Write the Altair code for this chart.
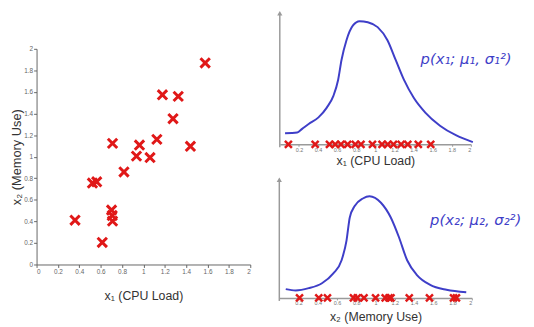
import altair as alt
import pandas as pd

# ---- data ----
cpu_load = [1.578, 1.178, 1.326, 1.277, 1.126, 1.44, 0.711, 0.963, 0.935, 1.062,
            0.818, 0.523, 0.563, 0.702, 0.708, 0.711, 0.36, 0.615]
memory_use = [1.869, 1.574, 1.559, 1.352, 1.160, 1.096, 1.123, 1.108, 1.005, 0.992,
              0.858, 0.755, 0.767, 0.505, 0.454, 0.402, 0.411, 0.204]

# crosses drawn along the x1 and x2 axes of the marginal plots
x1_marks = [0.09, 0.37, 0.52, 0.58, 0.64, 0.71, 0.79, 0.85, 0.97, 1.07, 1.13, 1.19,
            1.27, 1.34, 1.45, 1.58]
x2_marks = [0.21, 0.41, 0.5, 0.77, 0.81, 0.88, 1.0, 1.1, 1.14, 1.16, 1.35, 1.56,
            1.81, 1.84]

# hand-drawn density curves (x, height)
p1_x = [0.055, 0.182, 0.234, 0.302, 0.405, 0.492, 0.56, 0.611, 0.646, 0.698, 0.766,
        0.835, 0.921, 1.024, 1.127, 1.213, 1.299, 1.402, 1.523, 1.677, 1.848, 2.021]
p1_y = [0.094, 0.10, 0.131, 0.172, 0.228, 0.311, 0.408, 0.547, 0.714, 0.881, 1.006,
        1.042, 1.033, 0.992, 0.881, 0.714, 0.547, 0.394, 0.269, 0.158, 0.075, 0.019]
p2_x = [0.067, 0.17, 0.306, 0.443, 0.561, 0.647, 0.698, 0.732, 0.783, 0.868, 0.937,
        1.056, 1.158, 1.243, 1.328, 1.43, 1.567, 1.737, 1.942]
p2_y = [0.075, 0.064, 0.083, 0.125, 0.208, 0.319, 0.486, 0.681, 0.778, 0.842, 0.861,
        0.806, 0.681, 0.514, 0.319, 0.194, 0.111, 0.069, 0.048]

tick_values = [0, 0.2, 0.4, 0.6, 0.8, 1, 1.2, 1.4, 1.6, 1.8, 2]
marg_ticks = [0.2, 0.4, 0.6, 0.8, 1, 1.2, 1.4, 1.6, 1.8, 2]

label1 = "p(x\u2081; \u03bc\u2081, \u03c3\u2081\u00b2)"
label2 = "p(x\u2082; \u03bc\u2082, \u03c3\u2082\u00b2)"

# ---- layout (pixels inside the plot area) ----
W, H = 526, 318
RED = "#e01818"
BLUE = "#3e3ec8"
GRAY = "#9a9a9a"
X_PATH = "M-1,-1L1,1M-1,1L1,-1"

scatter_df = pd.DataFrame({"x1": cpu_load, "x2": memory_use})
m1_df = pd.DataFrame({"x": x1_marks, "y": [0] * len(x1_marks)})
m2_df = pd.DataFrame({"x": x2_marks, "y": [0] * len(x2_marks)})
c1_df = pd.DataFrame({"x": p1_x, "y": p1_y})
c2_df = pd.DataFrame({"x": p2_x, "y": p2_y})

# ---- scatter panel ----
sx = alt.Scale(domain=[0, 2], range=[29, 246], nice=False, zero=False)
sy = alt.Scale(domain=[0, 2], range=[258, 39], nice=False, zero=False)

scatter = alt.Chart(scatter_df).mark_point(
    shape=X_PATH, filled=False, stroke=RED, strokeWidth=3, size=90, opacity=1
).encode(
    x=alt.X("x1:Q", scale=sx, axis=alt.Axis(
        orient="bottom", offset=258 - H, values=tick_values, format="~g",
        title="x\u2081 (CPU Load)", grid=False, domainColor="#666", tickColor="#666",
        tickSize=3, labelFontSize=6.5, labelColor="#666", labelPadding=1,
        labelFont="Liberation Sans", titleFont="Liberation Sans", titleFontSize=12.5,
        titleFontWeight="normal", titleColor="#333", titlePadding=15)),
    y=alt.Y("x2:Q", scale=sy, axis=alt.Axis(
        orient="left", offset=-29, values=tick_values, format="~g",
        title="x\u2082 (Memory Use)", grid=False, domainColor="#666", tickColor="#666",
        tickSize=3, labelFontSize=6.5, labelColor="#666", labelPadding=1,
        labelFont="Liberation Sans", titleFont="Liberation Sans", titleFontSize=13,
        titleFontWeight="normal", titleColor="#333", titlePadding=0)),
)


def marginal(curve_df, marks_df, xr, yr, axis_y, title, tpad, label, lx, ly, vtop):
    mx = alt.Scale(domain=[0, 2], range=xr, nice=False, zero=False)
    my = alt.Scale(domain=[0, 1], range=yr, nice=False, zero=False)
    ax = alt.Axis(
        orient="bottom", offset=axis_y - H, values=marg_ticks, format="~g",
        title=title, grid=False, domainColor=GRAY, domainWidth=1.5, tickColor=GRAY,
        tickSize=2, labelFontSize=5.5, labelColor="#777", labelPadding=1,
        labelFont="Liberation Sans", titleFont="Liberation Sans", titleFontSize=12.5,
        titleFontWeight="normal", titleColor="#333", titlePadding=tpad)
    vdf = pd.DataFrame({"x": [0], "y": [-0.025], "y2": [vtop]})
    vline = alt.Chart(vdf).mark_rule(color=GRAY, strokeWidth=1.5).encode(
        x=alt.X("x:Q", scale=mx, axis=ax),
        y=alt.Y("y:Q", scale=my, axis=None),
        y2="y2:Q",
    )
    arrow = alt.Chart(vdf).mark_point(
        shape="triangle-up", filled=True, color=GRAY, size=28, opacity=1
    ).encode(
        x=alt.X("x:Q", scale=mx, axis=ax),
        y=alt.Y("y2:Q", scale=my, axis=None),
    )
    curve = alt.Chart(curve_df).mark_line(
        color=BLUE, strokeWidth=2, interpolate="monotone"
    ).encode(
        x=alt.X("x:Q", scale=mx, axis=ax),
        y=alt.Y("y:Q", scale=my, axis=None),
    )
    crosses = alt.Chart(marks_df).mark_point(
        shape=X_PATH, filled=False, stroke=RED, strokeWidth=2.5, size=50, opacity=1
    ).encode(
        x=alt.X("x:Q", scale=mx, axis=ax),
        y=alt.Y("y:Q", scale=my, axis=None),
    )
    tdf = pd.DataFrame({"x": [lx], "y": [ly], "t": [label]})
    text = alt.Chart(tdf).mark_text(
        color=BLUE, fontSize=15, font="DejaVu Sans", fontStyle="italic",
        align="center", baseline="middle"
    ).encode(
        x=alt.X("x:Q", scale=mx, axis=ax),
        y=alt.Y("y:Q", scale=my, axis=None),
        text="t:N",
    )
    return alt.layer(vline, arrow, curve, crosses, text)


top = marginal(c1_df, m1_df, [276, 470], [136, 16], 136,
               "x\u2081 (CPU Load)", 2, label1, 1.95, 0.72, 1.11)
bottom = marginal(c2_df, m2_df, [275.5, 471], [292, 172], 292,
                  "x\u2082 (Memory Use)", 4, label2, 2.04, 0.66, 1.0)

chart = alt.layer(scatter, top, bottom).resolve_scale(
    x="independent", y="independent"
).properties(
    width=W, height=H, autosize=alt.AutoSizeParams(type="none"), padding=0,
    background="white"
).configure_view(stroke=None)

chart.save("out.html", embed_options={"renderer": "svg", "actions": False})
